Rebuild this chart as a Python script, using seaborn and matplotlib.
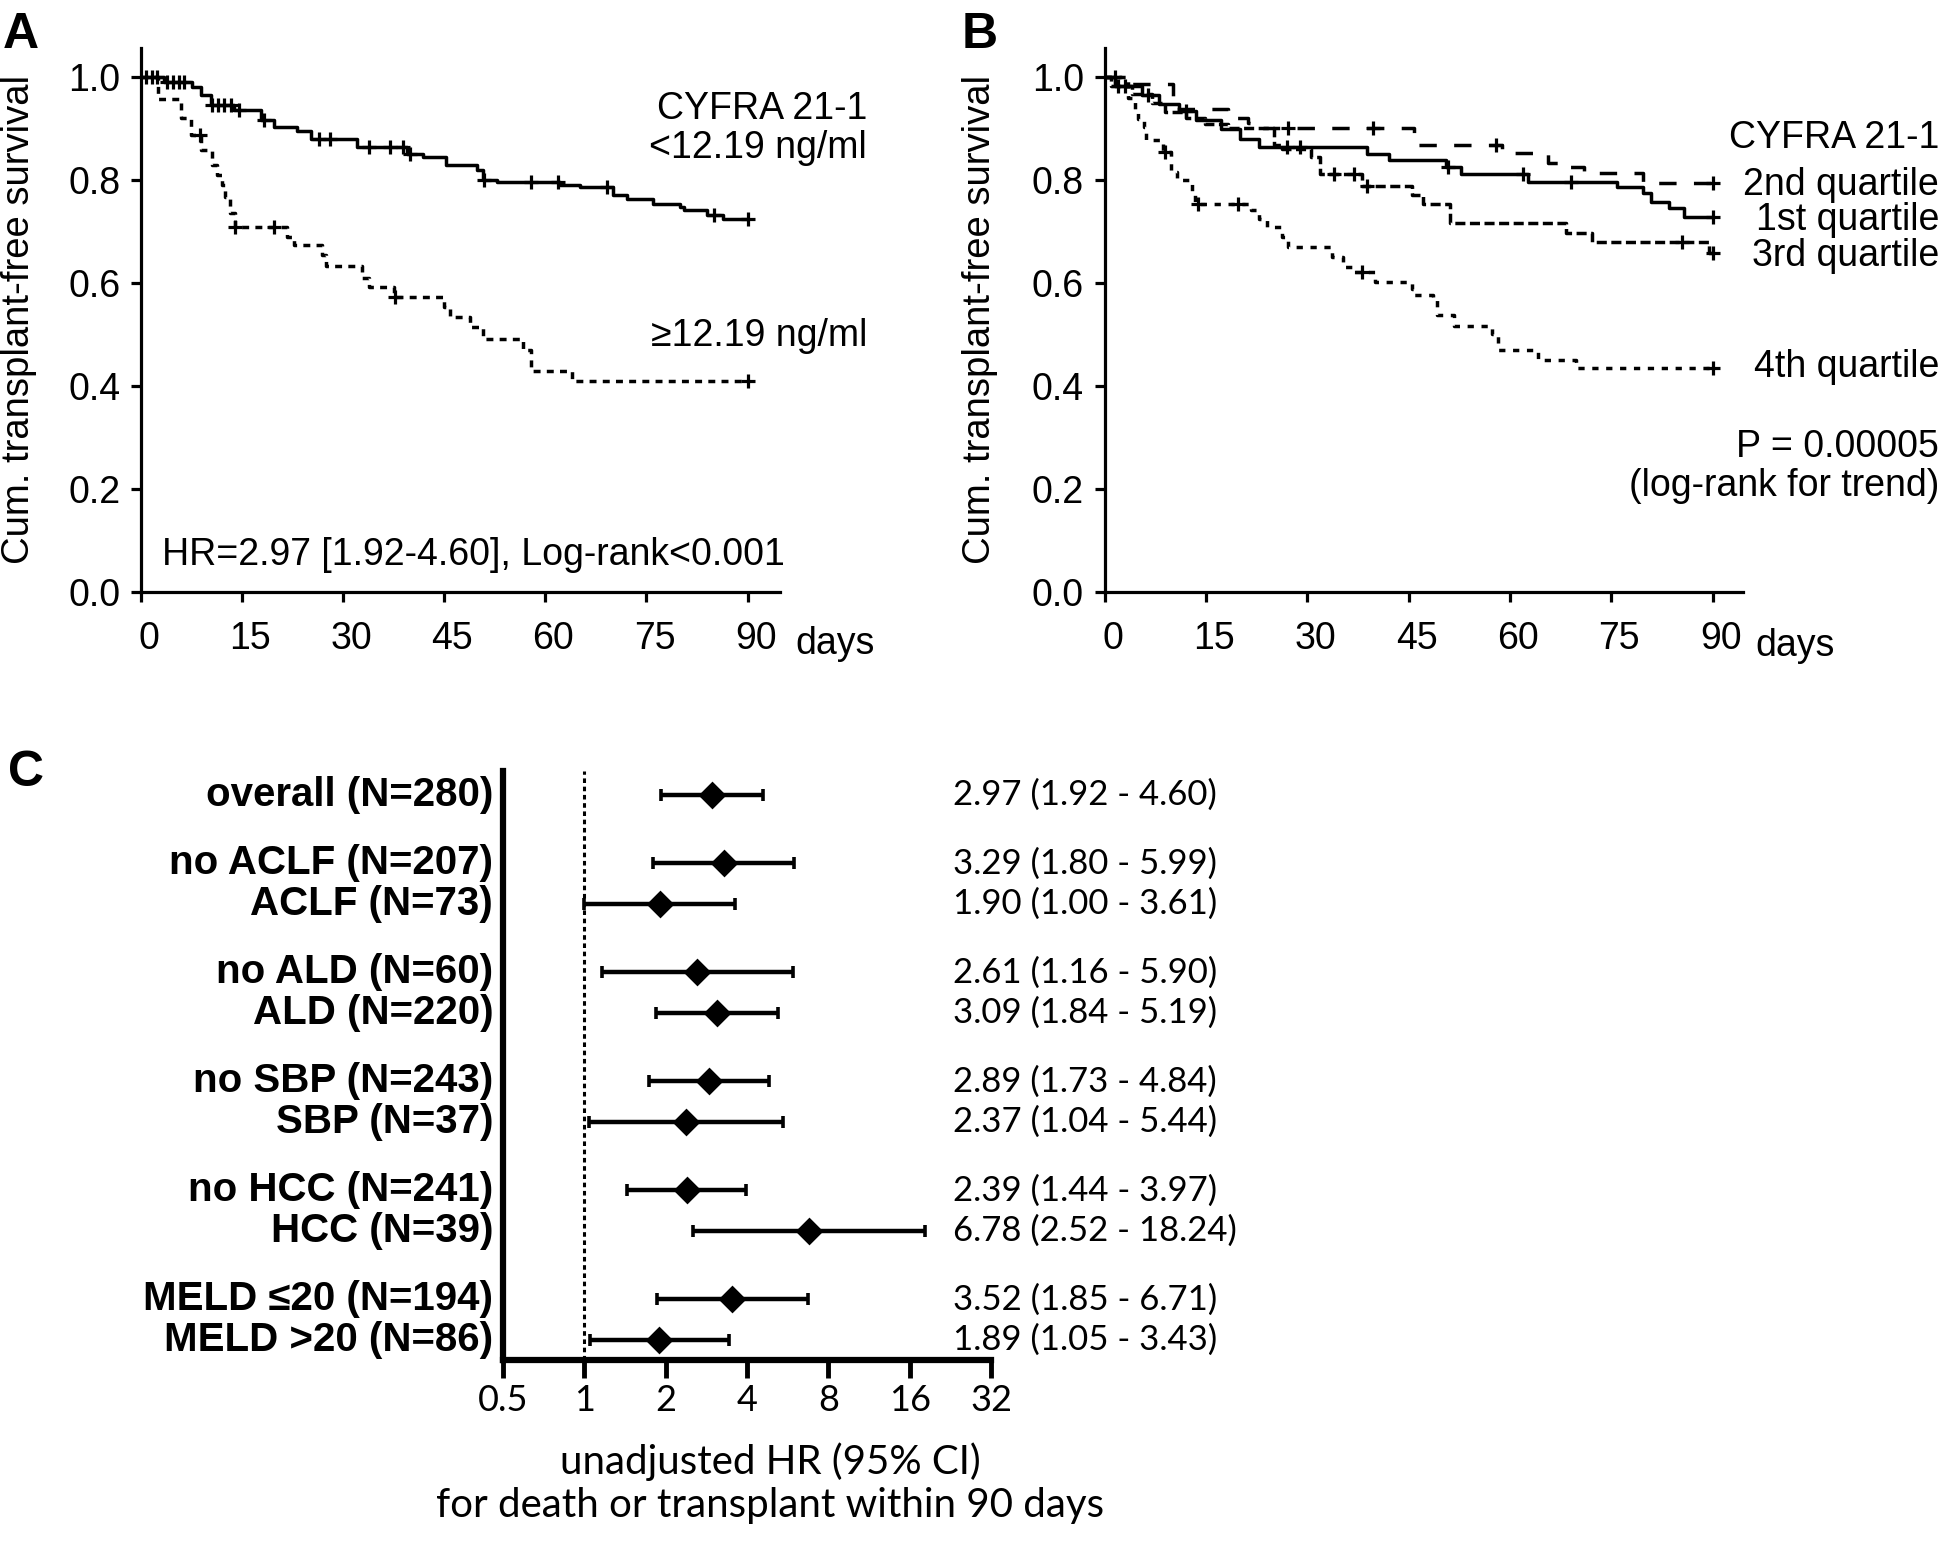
import numpy as np
import matplotlib
matplotlib.use("Agg")
import matplotlib.pyplot as plt
import matplotlib.transforms as mtransforms
from matplotlib.ticker import NullLocator
import seaborn as sns

# ---------------- data ----------------
# panel A: Kaplan-Meier, CYFRA 21-1 below / above cut-off
a_low_t = [0, 3.4, 7.6, 9.0, 10.4, 13.8, 17.8, 19.7, 23.2, 25.2, 32.1, 39.5, 41.9, 45.3,
           49.8, 50.8, 52.8, 62.2, 65.2, 70.1, 72.1, 76.0, 80.0, 80.5, 84.0, 86.4, 90]
a_low_s = [1.0, 0.99, 0.981, 0.965, 0.945, 0.935, 0.916, 0.903, 0.896, 0.88, 0.864, 0.851,
           0.845, 0.829, 0.819, 0.80, 0.796, 0.79, 0.786, 0.77, 0.764, 0.754, 0.748, 0.741,
           0.732, 0.725, 0.725]
a_low_cens = [0.8, 1.6, 2.4, 3.9, 4.8, 5.6, 6.4, 10.6, 11.5, 12.4, 13.4, 14.6, 18.2, 26.5,
              28.0, 33.8, 36.9, 38.9, 39.9, 50.9, 57.9, 61.9, 69.1, 85.0, 90]

a_high_t = [0, 2.6, 6.0, 7.5, 9.0, 10.5, 11.3, 12.0, 12.5, 13.3, 14.0, 21.7, 22.7, 26.8,
            27.5, 32.8, 33.8, 37.5, 45.0, 45.8, 48.8, 50.8, 56.7, 57.9, 63.9, 90]
a_high_s = [1.0, 0.958, 0.921, 0.887, 0.858, 0.83, 0.81, 0.79, 0.767, 0.735, 0.709, 0.69,
            0.673, 0.655, 0.632, 0.61, 0.592, 0.573, 0.553, 0.534, 0.515, 0.492, 0.469,
            0.43, 0.41, 0.41]
a_high_cens = [8.8, 14.0, 19.8, 37.7, 90]

# panel B: quartiles of CYFRA 21-1
q1_t = [0, 1.5, 5.6, 8.0, 11.0, 13.5, 17.3, 20.0, 22.8, 38.9, 42.1, 50.6, 52.8, 62.7,
        75.8, 79.7, 80.9, 83.6, 85.8, 90]
q1_s = [1.0, 0.982, 0.965, 0.948, 0.933, 0.916, 0.898, 0.88, 0.864, 0.851, 0.838, 0.825,
        0.812, 0.797, 0.787, 0.774, 0.758, 0.745, 0.729, 0.729]
q1_cens = [3.0, 6.5, 12.0, 27.0, 29.0, 50.9, 61.9, 69.0, 90]

q2_t = [0, 2.5, 10.2, 10.8, 18.3, 21.2, 23.4, 45.8, 58.8, 65.7, 68.4, 70.9, 79.7, 90]
q2_s = [1.0, 0.987, 0.962, 0.938, 0.92, 0.91, 0.90, 0.867, 0.852, 0.833, 0.825, 0.813,
        0.794, 0.794]
q2_cens = [1.5, 27.1, 39.8, 57.9, 90]

q3_t = [0, 1.0, 4.0, 7.0, 9.0, 12.0, 14.9, 18.3, 25.1, 26.2, 30.5, 31.9, 38.1, 45.5,
        47.2, 51.1, 68.3, 72.2, 89.5, 90]
q3_s = [1.0, 0.983, 0.966, 0.949, 0.932, 0.92, 0.909, 0.9, 0.867, 0.86, 0.844, 0.812,
        0.789, 0.77, 0.754, 0.716, 0.697, 0.68, 0.658, 0.658]
q3_cens = [2.0, 33.9, 37.0, 38.9, 85.4, 90]

q4_t = [0, 3.5, 4.5, 5.0, 5.8, 6.2, 8.6, 9.8, 10.8, 13.0, 13.4, 21.7, 22.8, 24.0, 26.2,
        27.1, 33.6, 35.3, 37.0, 40.1, 45.5, 45.8, 48.6, 49.2, 51.7, 57.4, 58.2, 64.2, 69.8, 90]
q4_s = [1.0, 0.96, 0.935, 0.918, 0.902, 0.877, 0.854, 0.815, 0.80, 0.777, 0.754, 0.741,
        0.725, 0.708, 0.689, 0.670, 0.650, 0.631, 0.622, 0.602, 0.589, 0.576, 0.566,
        0.537, 0.517, 0.501, 0.469, 0.45, 0.434, 0.434]
q4_cens = [9.0, 13.9, 19.8, 38.1, 90]

day_ticks = [0, 15, 30, 45, 60, 75, 90]
surv_ticks = [0.0, 0.2, 0.4, 0.6, 0.8, 1.0]

# panel C: forest plot (groups separated by a gap)
groups = [["overall (N=280)"],
          ["no ACLF (N=207)", "ACLF (N=73)"],
          ["no ALD (N=60)", "ALD (N=220)"],
          ["no SBP (N=243)", "SBP (N=37)"],
          ["no HCC (N=241)", "HCC (N=39)"],
          ["MELD \u226420 (N=194)", "MELD >20 (N=86)"]]
hr = [2.97, 3.29, 1.90, 2.61, 3.09, 2.89, 2.37, 2.39, 6.78, 3.52, 1.89]
hr_lo = [1.92, 1.80, 1.00, 1.16, 1.84, 1.73, 1.04, 1.44, 2.52, 1.85, 1.05]
hr_hi = [4.60, 5.99, 3.61, 5.90, 5.19, 4.84, 5.44, 3.97, 18.24, 6.71, 3.43]
hr_ticks = [0.5, 1, 2, 4, 8, 16, 32]
hr_ticklabels = ["0.5", "1", "2", "4", "8", "16", "32"]

# ---------------- style ----------------
sns.set_theme(style="ticks")
plt.rcParams["font.family"] = ["Liberation Sans", "DejaVu Sans"]
plt.rcParams["text.color"] = "black"
plt.rcParams["axes.labelcolor"] = "black"
plt.rcParams["xtick.color"] = "black"
plt.rcParams["ytick.color"] = "black"
plt.rcParams["axes.edgecolor"] = "black"

W, H = 1946, 1541
fig = plt.figure(figsize=(W / 100, H / 100), dpi=100)


def box(x0, y0, x1, y1):
    return [x0 / W, 1 - y1 / H, (x1 - x0) / W, (y1 - y0) / H]


def ftext(x, y, s, **kw):
    fig.text(x / W, 1 - y / H, s, va="baseline", **kw)


def step_at(t, s, tc):
    idx = np.searchsorted(t, tc, side="right") - 1
    return np.asarray(s)[idx]


def km(ax, t, s, cens, ls):
    sns.lineplot(x=t, y=s, ax=ax, drawstyle="steps-post", color="black",
                 linewidth=2.5, linestyle=ls, estimator=None, sort=False)
    sns.scatterplot(x=cens, y=step_at(t, s, cens), ax=ax, marker="+", s=95,
                    color="black", linewidth=2.3, zorder=3)


FS = 27
ax_a = fig.add_axes(box(140.8, 47.6, 780, 592))
ax_b = fig.add_axes(box(1104.5, 47.6, 1743, 592))

km(ax_a, a_low_t, a_low_s, a_low_cens, "-")
km(ax_a, a_high_t, a_high_s, a_high_cens, (0, (2.0, 1.8)))

km(ax_b, q1_t, q1_s, q1_cens, "-")
km(ax_b, q2_t, q2_s, q2_cens, (0, (5.0, 5.0)))
km(ax_b, q3_t, q3_s, q3_cens, (0, (2.9, 1.3)))
km(ax_b, q4_t, q4_s, q4_cens, (0, (1.8, 2.2)))

shift = mtransforms.ScaledTranslation(8 / 100, 0, fig.dpi_scale_trans)
for ax, xmax in ((ax_a, 94.8), (ax_b, 94.5)):
    ax.set_xlim(0, xmax)
    ax.set_ylim(0, 1.057)
    ax.set_xticks(day_ticks)
    ax.set_xticklabels([str(d) for d in day_ticks])
    ax.set_yticks(surv_ticks)
    ax.set_yticklabels([f"{v:.1f}" for v in surv_ticks])
    sns.despine(ax=ax)
    for sp in ax.spines.values():
        sp.set_linewidth(2.3)
    ax.tick_params(axis="both", direction="out", length=7.2, width=2.3, labelsize=FS)
    ax.tick_params(axis="x", pad=13.5)
    ax.tick_params(axis="y", pad=7.5)
    for lab in ax.get_xticklabels():
        lab.set_transform(lab.get_transform() + shift)
    ax.set_xlabel("")
    ax.set_ylabel("Cum. transplant-free survival", fontsize=FS + 0.5)

ax_a.yaxis.set_label_coords(-0.162, 0.5)
ax_b.yaxis.set_label_coords(-0.167, 0.5)

# panel A annotations
ftext(3, 48, "A", fontsize=36, fontweight="bold")
ftext(867, 119, "CYFRA 21-1", fontsize=FS, ha="right")
ftext(867, 158, "<12.19 ng/ml", fontsize=FS, ha="right")
ftext(867, 346, "\u226512.19 ng/ml", fontsize=FS, ha="right")
ftext(162, 565, "HR=2.97 [1.92-4.60], Log-rank<0.001", fontsize=FS, ha="left")
ftext(795, 654, "days", fontsize=FS, ha="left")

# panel B annotations
ftext(962, 48, "B", fontsize=36, fontweight="bold")
ftext(1939, 148, "CYFRA 21-1", fontsize=FS, ha="right")
ftext(1939, 195, "2nd quartile", fontsize=FS, ha="right")
ftext(1939, 230, "1st quartile", fontsize=FS, ha="right")
ftext(1939, 266, "3rd quartile", fontsize=FS, ha="right")
ftext(1939, 377, "4th quartile", fontsize=FS, ha="right")
ftext(1939, 457, "P = 0.00005", fontsize=FS, ha="right")
ftext(1939, 496, "(log-rank for trend)", fontsize=FS, ha="right")
ftext(1755, 656, "days", fontsize=FS, ha="left")

# ---------------- panel C ----------------
ax_c = fig.add_axes(box(503, 770.6, 991, 1360))
labels = [lab for g in groups for lab in g]
rows = []
pos = 0.0
for g in groups:
    for _ in g:
        rows.append(pos)
        pos += 1.0
    pos += 0.7
rows = np.array(rows)
hr_a = np.array(hr)
lo_a = np.array(hr_lo)
hi_a = np.array(hr_hi)

ax_c.set_xscale("log", base=2)
ax_c.axvline(1, color="black", linewidth=2.2, linestyle=(0, (1.5, 1.2)), zorder=1)
ax_c.errorbar(hr_a, rows, xerr=[hr_a - lo_a, hi_a - hr_a], fmt="none", ecolor="black",
              elinewidth=3.2, capsize=4.5, capthick=2.6, zorder=2)
sns.scatterplot(x=hr_a, y=rows, ax=ax_c, marker="D", s=200, color="black",
                edgecolor="black", linewidth=0, zorder=4)
ax_c.set_xlim(0.5, 32)
ax_c.set_ylim(14.0, -0.6)
ax_c.set_xticks(hr_ticks)
ax_c.set_xticklabels(hr_ticklabels)
ax_c.xaxis.set_minor_locator(NullLocator())
ax_c.set_yticks([])
sns.despine(ax=ax_c)
for sp in ax_c.spines.values():
    sp.set_linewidth(4.5)
ax_c.tick_params(axis="x", direction="out", length=13, width=3.5, pad=4,
                 labelsize=26, labelfontfamily="Lato")

blend = mtransforms.blended_transform_factory(ax_c.transAxes, ax_c.transData)
for lab, y, h, lo, hi in zip(labels, rows, hr, hr_lo, hr_hi):
    ax_c.text(-0.02, y, lab, transform=blend, ha="right", va="center",
              fontsize=29, fontweight="bold")
    ax_c.text(0.922, y, f"{h:.2f} ({lo:.2f} - {hi:.2f})", transform=blend,
              ha="left", va="center", fontsize=25, family="Lato")

ax_c.set_xlabel("unadjusted HR (95% CI)\nfor death or transplant within 90 days",
                fontsize=29, family="Lato", linespacing=1.2)
ax_c.xaxis.set_label_coords((770 - 503) / 488, -0.14)
ax_c.set_ylabel("")
ftext(8, 786, "C", fontsize=36, fontweight="bold")

fig.savefig("out.png", dpi=100)
